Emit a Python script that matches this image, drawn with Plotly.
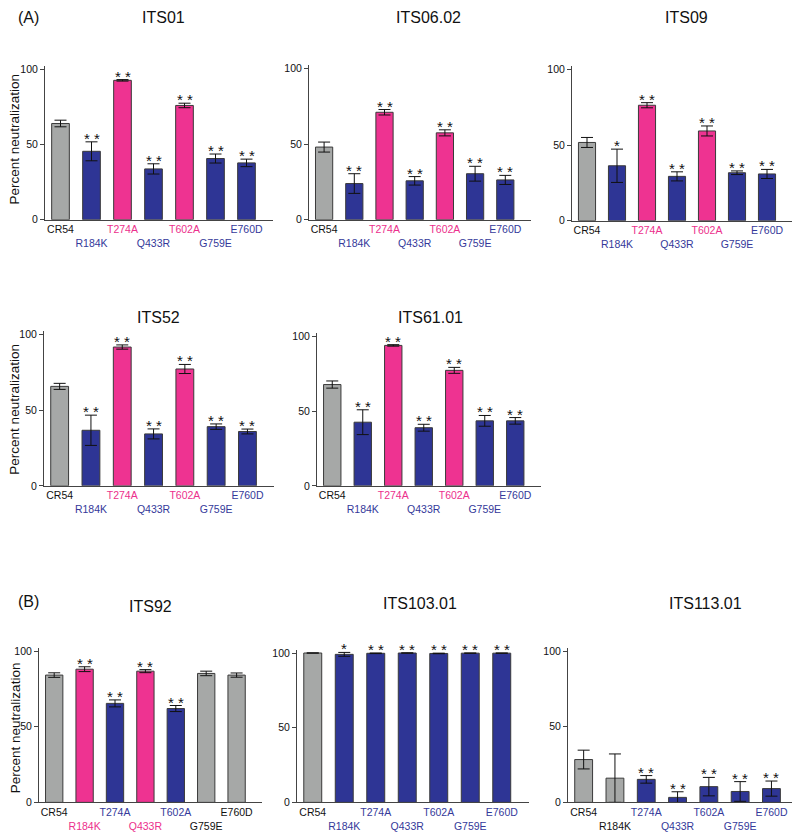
import plotly.graph_objects as go

# mutations tested on each antibody
groups = ["CR54", "R184K", "T274A", "Q433R", "T602A", "G759E", "E760D"]

# (A) panels
its01_mean = [64.0, 45.5, 92.7, 33.8, 76.0, 40.7, 37.8]
its01_err = [2.2, 6.3, 0.5, 3.4, 1.5, 3.0, 2.5]
its01_sig = ["", "**", "**", "**", "**", "**", "**"]

its0602_mean = [48.0, 23.9, 71.0, 25.7, 57.4, 30.4, 26.3]
its0602_err = [3.3, 6.5, 1.8, 2.8, 2.0, 4.9, 3.0]
its0602_sig = ["", "**", "**", "**", "**", "**", "**"]

its09_mean = [51.7, 36.3, 76.3, 29.3, 59.3, 31.7, 30.9]
its09_err = [3.3, 11.0, 1.7, 3.0, 3.3, 1.2, 3.0]
its09_sig = ["", "*", "**", "**", "**", "**", "**"]

its52_mean = [65.7, 36.7, 91.7, 34.3, 77.2, 39.1, 35.9]
its52_err = [2.0, 10.0, 1.4, 3.3, 3.0, 1.8, 1.6]
its52_sig = ["", "**", "**", "**", "**", "**", "**"]

its6101_mean = [67.8, 42.6, 94.0, 38.9, 77.3, 43.5, 43.5]
its6101_err = [2.4, 8.3, 0.5, 2.3, 2.0, 3.6, 2.2]
its6101_sig = ["", "**", "**", "**", "**", "**", "**"]

# (B) panels
its92_mean = [84.1, 88.0, 65.4, 86.7, 62.0, 85.2, 84.1]
its92_err = [1.5, 1.6, 2.3, 1.0, 2.0, 1.5, 1.4]
its92_sig = ["", "**", "**", "**", "**", "", ""]

its10301_mean = [100.0, 99.1, 99.8, 100.0, 99.7, 99.9, 99.9]
its10301_err = [0.0, 1.3, 0.2, 0.1, 0.2, 0.1, 0.1]
its10301_sig = ["", "*", "**", "**", "**", "**", "**"]

its11301_mean = [28.3, 16.0, 15.2, 3.3, 10.4, 7.2, 9.1]
its11301_err = [6.2, 16.0, 2.5, 3.7, 6.1, 6.5, 5.0]
its11301_sig = ["", "", "**", "**", "**", "**", "**"]

# effect of each mutation: control / up / down / ns
effect_a = ["ctrl", "down", "up", "down", "up", "down", "down"]
effect_92 = ["ctrl", "up", "down", "up", "down", "ns", "ns"]
effect_103 = ["ctrl", "down", "down", "down", "down", "down", "down"]
effect_113 = ["ctrl", "ns", "down", "down", "down", "down", "down"]

bar_col = {"ctrl": "#a6a8a7", "ns": "#a6a8a7", "up": "#ee3391", "down": "#2e3595"}
lab_col = {"ctrl": "#111111", "ns": "#111111", "up": "#ec2f8c", "down": "#34399a"}

W, H = 800, 835
OFF = 8  # page body margin shifts the figure; positions below are in screen px


def px_x(p):
    return (p - OFF) / W


def px_y(p):
    return 1 - (p - OFF) / H


# name, mean, err, sig, effect, y-axis x px, category spacing px, y(100) px, y(0) px, title x px, title y px
panels = [
    ("ITS01", its01_mean, its01_err, its01_sig, effect_a, 45, 31.0, 67, 219, 163, 15),
    ("ITS06.02", its0602_mean, its0602_err, its0602_sig, effect_a, 309, 30.2, 66, 219, 428, 15),
    ("ITS09", its09_mean, its09_err, its09_sig, effect_a, 572, 30.0, 67, 220, 686, 15),
    ("ITS52", its52_mean, its52_err, its52_sig, effect_a, 44, 31.3, 335, 488, 158, 318),
    ("ITS61.01", its6101_mean, its6101_err, its6101_sig, effect_a, 317, 30.5, 337, 488, 430, 318),
    ("ITS92", its92_mean, its92_err, its92_sig, effect_92, 39, 30.4, 655, 808, 150, 610),
    ("ITS103.01", its10301_mean, its10301_err, its10301_sig, effect_103, 297, 31.5, 657, 808, 420, 607),
    ("ITS113.01", its11301_mean, its11301_err, its11301_sig, effect_113, 568, 31.3, 655, 808, 705, 607),
]

FONT = "Liberation Sans, Arial, sans-serif"
xr = [-0.5, 6.85]
YTOP = 102  # a little headroom so marks at 100 stay visible

fig = go.Figure()
annotations = []
layout = {}

for i, (name, mean, err, sig, eff, ax_px, sp, y100, y0, tx, ty) in enumerate(panels):
    n = i + 1
    xa = "x" if n == 1 else f"x{n}"
    ya = "y" if n == 1 else f"y{n}"
    xkey = "xaxis" if n == 1 else f"xaxis{n}"
    ykey = "yaxis" if n == 1 else f"yaxis{n}"

    fig.add_trace(go.Bar(
        x=list(range(len(groups))),
        y=mean,
        width=0.57,
        marker=dict(color=[bar_col[e] for e in eff], line=dict(color="#3a3a3a", width=1)),
        error_y=dict(type="data", array=err, visible=True, color="#111111", thickness=1, width=6),
        cliponaxis=False,
        showlegend=False,
        xaxis=xa, yaxis=ya,
    ))

    # significance marks above the error bars
    for j, s in enumerate(sig):
        if s:
            annotations.append(dict(
                x=j, y=mean[j] + err[j], xref=xa, yref=ya, text=" ".join(s),
                showarrow=False, yanchor="bottom", yshift=-7,
                font=dict(family=FONT, size=15, color="#111111"),
            ))

    ticktext = []
    for j, g in enumerate(groups):
        t = f"<span style='color:{lab_col[eff[j]]}'>{g}</span>"
        ticktext.append("<br>" + t if j % 2 else t)

    x_end = ax_px + sp * (xr[1] - xr[0])
    top_px = y0 - (y0 - y100) * YTOP / 100
    layout[xkey] = dict(
        domain=[px_x(ax_px), min(px_x(x_end), 1.0)], anchor=ya, range=xr,
        tickvals=list(range(len(groups))), ticktext=ticktext, tickangle=0,
        showline=True, linecolor="#444444", linewidth=1, ticks="",
        showgrid=False, zeroline=False, fixedrange=True,
        tickfont=dict(family=FONT, size=10.5, color="#111111"),
    )
    layout[ykey] = dict(
        domain=[px_y(y0), px_y(top_px)], anchor=xa, range=[0, YTOP],
        tickvals=[0, 50, 100], showline=True, linecolor="#444444", linewidth=1,
        ticks="outside", ticklen=4, tickcolor="#444444",
        showgrid=False, zeroline=False, fixedrange=True,
        tickfont=dict(family=FONT, size=10.5, color="#111111"),
    )

    annotations.append(dict(
        x=px_x(tx), y=px_y(ty), xref="paper", yref="paper", text=name,
        showarrow=False, xanchor="center", yanchor="middle",
        font=dict(family=FONT, size=16, color="#111111"),
    ))

# y-axis titles on the left-most panels
for yc in [138, 411, 733]:
    annotations.append(dict(
        x=px_x(15), y=px_y(yc), xref="paper", yref="paper", text="Percent neutralization",
        showarrow=False, textangle=-90, xanchor="center", yanchor="middle",
        font=dict(family=FONT, size=13.5, color="#111111"),
    ))

# section labels
for lab, yc in [("(A)", 15), ("(B)", 605)]:
    annotations.append(dict(
        x=px_x(16), y=px_y(yc), xref="paper", yref="paper", text=lab,
        showarrow=False, xanchor="left", yanchor="middle",
        font=dict(family=FONT, size=16, color="#111111"),
    ))

fig.update_layout(
    width=W, height=H,
    margin=dict(l=0, r=0, t=0, b=0),
    paper_bgcolor="white", plot_bgcolor="white",
    bargap=0.43,
    annotations=annotations,
    **layout,
)

fig.write_html("out.html")
